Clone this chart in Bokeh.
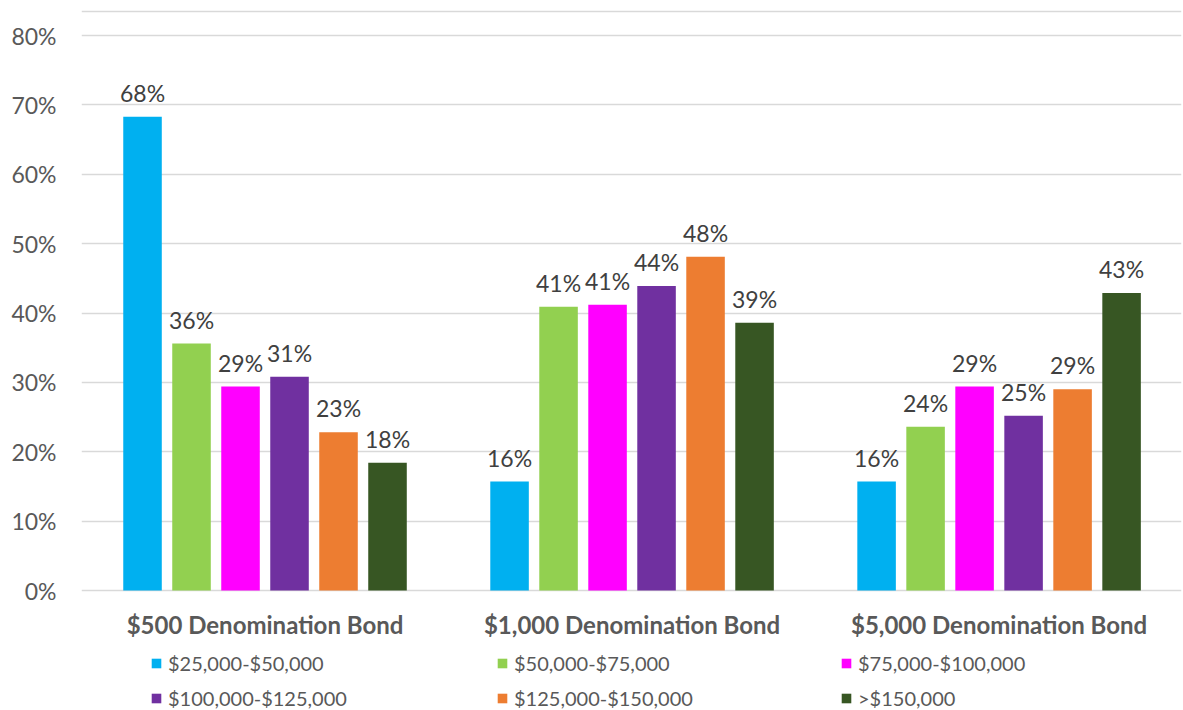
from bokeh.plotting import figure
from bokeh.models import (ColumnDataSource, Range1d, FixedTicker, PrintfTickFormatter,
                          LabelSet, Legend, LegendItem, Span)
from bokeh.core.properties import value
from bokeh.transform import dodge
from bokeh.embed import file_html
from bokeh.resources import INLINE

groups = ["$500 Denomination Bond", "$1,000 Denomination Bond", "$5,000 Denomination Bond"]
series = ["$25,000-$50,000", "$50,000-$75,000", "$75,000-$100,000",
          "$100,000-$125,000", "$125,000-$150,000", ">$150,000"]
colors = ["#00B0F0", "#92D050", "#FF00FF", "#7030A0", "#ED7D31", "#375623"]
v_25_50 = [68.3, 15.7, 15.7]
v_50_75 = [35.6, 40.9, 23.6]
v_75_100 = [29.4, 41.2, 29.4]
v_100_125 = [30.8, 43.9, 25.2]
v_125_150 = [22.8, 48.1, 29.0]
v_150p = [18.4, 38.6, 42.9]
values = [v_25_50, v_50_75, v_75_100, v_100_125, v_125_150, v_150p]
y_ticks = [0, 10, 20, 30, 40, 50, 60, 70, 80]

FONT = "Lato"
xpos = [i + 0.5 for i in range(len(groups))]

# frame spans the full height; area below 0 holds category labels and legend
PX = 6.9375  # pixels per percentage point
p = figure(width=1183, height=710, output_backend="svg", toolbar_location=None,
           x_range=Range1d(0, 2.997), y_range=Range1d(-120 / PX, 80 + 35 / PX),
           min_border_left=81, min_border_right=2, min_border_top=0, min_border_bottom=0)
p.outline_line_color = None
p.background_fill_color = "white"
p.border_fill_color = "white"

# light chart-area border line at the top
p.add_layout(Span(location=80 + 24 / PX, dimension="width",
                  line_color="#D9D9D9", line_width=1.3))

step = 0.1335
width = 0.105
renderers = []
for i, (name, col, vals) in enumerate(zip(series, colors, values)):
    src = ColumnDataSource(dict(x=xpos, y=vals, lbl=[f"{round(v)}%" for v in vals]))
    off = (i - (len(series) - 1) / 2) * step
    r = p.vbar(x=dodge("x", off), top="y", width=width, source=src,
               fill_color=col, line_color=None)
    renderers.append(r)
    labels = LabelSet(x=dodge("x", off), y="y", text="lbl", source=src,
                      text_align="center", text_baseline="alphabetic", y_offset=15,
                      text_font=value(FONT), text_font_size=value("23px"),
                      text_color=value("#404040"))
    p.add_layout(labels)

# axes
p.yaxis.ticker = FixedTicker(ticks=y_ticks)
p.yaxis.formatter = PrintfTickFormatter(format="%d%%")
p.yaxis.axis_line_color = None
p.yaxis.major_tick_line_color = None
p.yaxis.minor_tick_line_color = None
p.yaxis.major_tick_out = 0
p.yaxis.major_label_standoff = 25
p.yaxis.major_label_text_font = FONT
p.yaxis.major_label_text_font_size = "23px"
p.yaxis.major_label_text_color = "#595959"

p.xaxis.fixed_location = 0
p.xaxis.ticker = FixedTicker(ticks=xpos)
p.xaxis.major_label_overrides = {x: g for x, g in zip(xpos, groups)}
p.xaxis.axis_line_color = None
p.xaxis.major_tick_line_color = None
p.xaxis.minor_tick_line_color = None
p.xaxis.major_tick_out = 0
p.xaxis.major_label_standoff = 19
p.xaxis.major_label_text_font = FONT
p.xaxis.major_label_text_font_size = "24px"
p.xaxis.major_label_text_font_style = "bold"
p.xaxis.major_label_text_color = "#595959"

p.xgrid.grid_line_color = None
p.ygrid.grid_line_color = "#D9D9D9"
p.ygrid.grid_line_width = 1.3
p.ygrid.ticker = FixedTicker(ticks=y_ticks)

# legend: three columns, two rows
col_x = [69, 415, 759]
for c in range(3):
    items = [LegendItem(label=series[c], renderers=[renderers[c]]),
             LegendItem(label=series[c + 3], renderers=[renderers[c + 3]])]
    lg = Legend(items=items, location=(col_x[c], 0), orientation="vertical",
                glyph_width=12, glyph_height=12, label_height=20, spacing=11,
                label_standoff=6, padding=0, margin=0,
                label_text_font=FONT, label_text_font_size="20px",
                label_text_color="#595959", background_fill_alpha=0,
                border_line_color=None)
    p.add_layout(lg, "center")

open("out.html", "w").write(file_html(p, INLINE))
